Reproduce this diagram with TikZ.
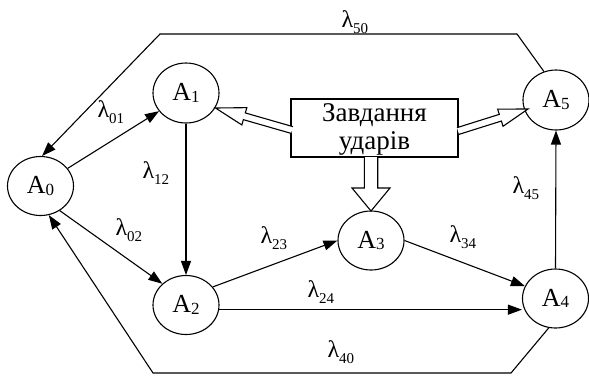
\documentclass[tikz,border=0pt]{standalone}
\usepackage{fontspec}
\setmainfont{Liberation Serif}
\usetikzlibrary{arrows.meta,calc,shapes.geometric}
\newcommand{\Asub}[1]{A\raisebox{-1.5pt}{\fontsize{17}{17}\selectfont #1}}
\newcommand{\lsub}[1]{λ\raisebox{-6pt}{\fontsize{15}{15}\selectfont #1}}
\newcommand{\blockarr}[5]{%
  \coordinate (bt) at (#1); \coordinate (bh) at (#2);
  \coordinate (bb) at ($(bh)!#5!(bt)$);
  \draw[fill=white] ($(bt)!#3!90:(bh)$) -- ($(bb)!#3!90:(bh)$) -- ($(bb)!#4!90:(bh)$) -- (bh)
     -- ($(bb)!#4!-90:(bh)$) -- ($(bb)!#3!-90:(bh)$) -- ($(bt)!#3!-90:(bh)$);
}
\begin{document}
\begin{tikzpicture}[x=1pt,y=-1pt,line width=1.1pt,
  st/.style={ellipse,draw,minimum width=66pt,minimum height=59pt,inner sep=0pt,font=\fontsize{26}{28}\selectfont},
  arr/.style={-{Triangle[length=14pt,width=10pt]}},
  lab/.style={anchor=base west,inner sep=0pt,font=\fontsize{24}{26}\selectfont},
  boxst/.style={draw,minimum width=167pt,minimum height=58pt,inner sep=0pt},
  boxtext/.style={inner sep=0pt,align=center,font=\fontsize{27}{28}\selectfont}
]
\useasboundingbox (0,0) rectangle (589,376);
\node[st] (A0) at (40.5,186) {\Asub{0}};
\node[st,minimum height=60pt] (A1) at (186,93) {\Asub{1}};
\node[st] (A2) at (186,305) {\Asub{2}};
\node[st] (A3) at (371,240.5) {\Asub{3}};
\node[st] (A4) at (555.5,298.5) {\Asub{4}};
\node[st,minimum height=60pt] (A5) at (556,100) {\Asub{5}};
\node[boxst] (box) at (374.5,128) {};
\node[boxtext] (boxtxt) at (374.5,129) {Завдання\\ударів};

\coordinate (t1) at (517,34);
\coordinate (t2) at (160,34);
\coordinate (b1) at (511,373);
\coordinate (b2) at (153,373);

\draw[arr] (A0.33) -- (A1.214);
\draw[arr] (A0.-52) -- (A2.138);
\draw[arr] (A1.south) -- (A2.north);
\draw[arr] (A2.34) -- (A3.west);
\draw[arr] (A2.-8) -- (A2.-8 -| A4.west);
\draw[arr] (A3.east) -- (A4.158);
\draw[arr] (A4.north) -- (A5.south);
\draw[arr] (A5.113) -- (t1) -- (t2) -- (A0.87);
\draw[arr] (A4.257) -- (b1) -- (b2) -- (A0.286);

\node[lab] (l01) at (97,117) {\lsub{01}};
\node[lab] (l12) at (142,178) {\lsub{12}};
\node[lab] (l02) at (115,235) {\lsub{02}};
\node[lab] (l23) at (260,243) {\lsub{23}};
\node[lab] (l24) at (307,297) {\lsub{24}};
\node[lab] (l34) at (449,242) {\lsub{34}};
\node[lab] (l40) at (327,357) {\lsub{40}};
\node[lab] (l45) at (512,193) {\lsub{45}};
\node[lab] (l50) at (341,27) {\lsub{50}};

\blockarr{292,130}{215.5,108}{3.5pt}{9pt}{30pt}
\blockarr{458,131}{528,109}{3.5pt}{9pt}{29pt}
\blockarr{371,157}{371,211}{6.7pt}{19pt}{23pt}
\end{tikzpicture}
\end{document}
